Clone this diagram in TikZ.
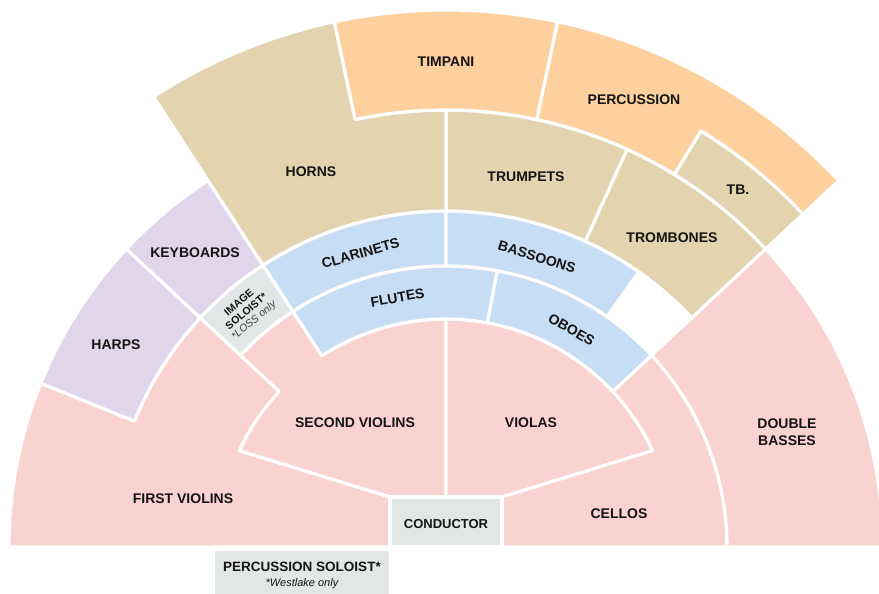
\documentclass[tikz,border=0pt]{standalone}
\usepackage{fontspec}
\setmainfont{Liberation Sans}
\definecolor{strg}{HTML}{FAD2D0}
\definecolor{keys}{HTML}{E1D5EB}
\definecolor{brass}{HTML}{E4D3AF}
\definecolor{perc}{HTML}{FDD09E}
\definecolor{wind}{HTML}{C7DDF3}
\definecolor{solo}{HTML}{E3E6E7}
\newcommand{\ring}[4]{(#3:#1pt) -- (#3:#2pt) arc[start angle=#3,end angle=#4,radius=#2pt] -- (#4:#1pt) arc[start angle=#4,end angle=#3,radius=#1pt] -- cycle}
\begin{document}
\begin{tikzpicture}[x=1pt,y=1pt,
    part/.style={draw=white,line width=3.2pt,line join=round},
    lbl/.style={font=\bfseries\fontsize{14}{17}\selectfont,text=black!92,align=center},
    tiny/.style={font=\bfseries\fontsize{10.5}{11.5}\selectfont,text=black!92,align=center,inner sep=1pt}]
                \useasboundingbox (-446,-47) rectangle (433,547);
                \filldraw[part,fill=strg] (-56,0) -- (-56,50) -- (155:228pt) arc[start angle=155,end angle=137,radius=228pt] -- (137:336pt) arc[start angle=137,end angle=158,radius=336pt] -- (158:437pt) arc[start angle=158,end angle=180,radius=437pt] -- cycle;
                \filldraw[part,fill=strg] (-56,50) -- (0,50) -- (90:228pt) arc[start angle=90,end angle=123,radius=228pt] -- (123:281pt) arc[start angle=123,end angle=137,radius=281pt] -- (137:228pt) arc[start angle=137,end angle=155,radius=228pt] -- cycle;
                \filldraw[part,fill=strg] (56,50) -- (0,50) -- (90:228pt) arc[start angle=90,end angle=25,radius=228pt] -- cycle;
                \filldraw[part,fill=strg] (56,0) -- (56,50) -- (25:228pt) arc[start angle=25,end angle=43,radius=228pt] -- (43:281pt) arc[start angle=43,end angle=0,radius=281pt] -- cycle;
                \filldraw[part,fill=strg] \ring{281}{437}{0}{43};
                \filldraw[part,fill=solo] (-56,0) rectangle (56,50);
                \filldraw[part,fill=keys] \ring{336}{437}{137}{158};
                \filldraw[part,fill=keys] \ring{336}{437}{123}{137};
                \filldraw[part,fill=solo] \ring{281}{336}{123}{137};
                \filldraw[part,fill=wind] \ring{228}{281}{79.5}{123};
                \filldraw[part,fill=wind] \ring{228}{281}{43}{79.5};
                \filldraw[part,fill=wind] \ring{281}{336}{90}{123};
                \filldraw[part,fill=wind] \ring{281}{336}{55}{90};
                \filldraw[part,fill=brass] \ring{336}{437}{65.5}{90};
                \filldraw[part,fill=brass] \ring{336}{437}{43}{65.5};
                \filldraw[part,fill=brass] (90:336pt) -- (90:437pt) arc[start angle=90,end angle=102,radius=437pt] -- (102:537pt) arc[start angle=102,end angle=123,radius=537pt] -- (123:336pt) arc[start angle=123,end angle=90,radius=336pt] -- cycle;
                \filldraw[part,fill=brass] \ring{437}{488}{43}{58.5};
                \filldraw[part,fill=perc] \ring{437}{537}{78}{102};
                \filldraw[part,fill=perc] (43:488pt) -- (43:537pt) arc[start angle=43,end angle=78,radius=537pt] -- (78:437pt) arc[start angle=78,end angle=58.5,radius=437pt] -- (58.5:488pt) arc[start angle=58.5,end angle=43,radius=488pt] -- cycle;
                \fill[solo] (-231,-4) rectangle (-57,-47);
                \node[lbl] at (0,485) (tim) {TIMPANI};
                \node[lbl] at (188,447) (pc) {PERCUSSION};
                \node[lbl] at (-135,375) (hn) {HORNS};
                \node[lbl] at (80,370) (tp) {TRUMPETS};
                \node[lbl] at (292,357) (tb) {TB.};
                \node[lbl] at (226,309) (tbn) {TROMBONES};
                \node[lbl] at (-251,294) (kb) {KEYBOARDS};
                \node[lbl,rotate=16] at (106.2:306) (cl) {CLARINETS};
                \node[lbl,rotate=-17] at (72.6:304) (bn) {BASSOONS};
                \node[lbl,rotate=10] at (101:254) (fl) {FLUTES};
                \node[lbl,rotate=-30] at (60:251) (ob) {OBOES};
                \node[tiny,rotate=40] at (130.3:308) (is) {IMAGE\\SOLOIST*\\{\mdseries\itshape\color{black!75}*LOSS only}};
                \node[lbl] at (-330,202) (hp) {HARPS};
                \node[lbl] at (-91,124) (vn2) {SECOND VIOLINS};
                \node[lbl] at (85,124) (va) {VIOLAS};
                \node[lbl] at (-263,48) (vn1) {FIRST VIOLINS};
                \node[lbl,font=\bfseries\fontsize{13}{15}\selectfont] at (0,23) (cond) {CONDUCTOR};
                \node[lbl] at (173,33) (vc) {CELLOS};
                \node[lbl] at (341,115) (cb) {DOUBLE\\BASSES};
                \node[lbl,font=\bfseries\fontsize{13.5}{15}\selectfont] at (-144,-20) (ps) {PERCUSSION SOLOIST*};
                \node[tiny,font=\itshape\fontsize{11}{12}\selectfont,inner sep=0pt] at (-144,-37) (wl) {*Westlake only};
            \end{tikzpicture}
\end{document}
